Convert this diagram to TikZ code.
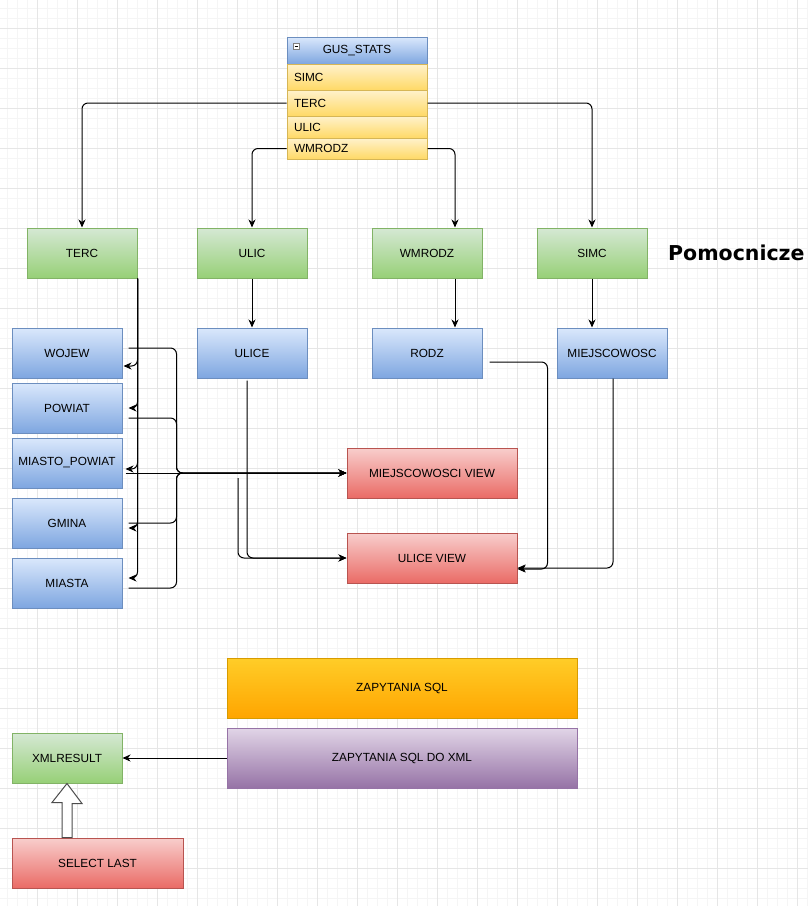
\documentclass[tikz,border=0pt]{standalone}
\usepackage{fontspec}
\newfontfamily\boxfont{Liberation Sans}
\newfontfamily\titlefont{DejaVu Sans}
\usetikzlibrary{arrows.meta,calc}
\definecolor{greenT}{HTML}{D5E8D4}\definecolor{greenB}{HTML}{97D077}\definecolor{greenS}{HTML}{82B366}
\definecolor{blueT}{HTML}{DAE8FC}\definecolor{blueB}{HTML}{7EA6E0}\definecolor{blueS}{HTML}{6C8EBF}
\definecolor{redT}{HTML}{F8CECC}\definecolor{redB}{HTML}{EA6B66}\definecolor{redS}{HTML}{B85450}
\definecolor{orgT}{HTML}{FFCD28}\definecolor{orgB}{HTML}{FFA500}\definecolor{orgS}{HTML}{D79B00}
\definecolor{purT}{HTML}{E1D5E7}\definecolor{purB}{HTML}{9673A6}\definecolor{purS}{HTML}{9673A6}
\definecolor{yelT}{HTML}{FFF2CC}\definecolor{yelB}{HTML}{FFD966}\definecolor{yelS}{HTML}{D6B656}
\definecolor{gridminor}{HTML}{F5F5F5}\definecolor{gridmajor}{HTML}{E6E6E6}
\tikzset{
  boxbase/.style={draw, line width=1pt, inner sep=0pt, minimum width=110pt, minimum height=50pt,
    font=\boxfont\fontsize{11.8}{14}\selectfont, text=black},
  greenbox/.style={boxbase, draw=greenS, top color=greenT, bottom color=greenB},
  bluebox/.style={boxbase, draw=blueS, top color=blueT, bottom color=blueB},
  redbox/.style={boxbase, draw=redS, top color=redT, bottom color=redB, minimum width=170pt},
  orgbox/.style={boxbase, draw=orgS, top color=orgT, bottom color=orgB, minimum width=350pt, minimum height=60pt},
  purbox/.style={boxbase, draw=purS, top color=purT, bottom color=purB, minimum width=350pt, minimum height=60pt},
  rowbox/.style={boxbase, draw=yelS, top color=yelT, bottom color=yelB, minimum width=140pt,
    text width=126pt, inner xsep=7pt, inner ysep=0pt, align=left},
  headbox/.style={boxbase, draw=blueS, top color=blueT, bottom color=blueB, minimum width=140pt, minimum height=27pt},
  conn/.style={draw=black, line width=1pt, rounded corners=6pt, -{Stealth[length=8pt,width=7pt,inset=2.5pt]}},
  gridmin/.style={draw=gridminor, line width=1pt},
  gridmaj/.style={draw=gridmajor, line width=1pt},
}
\begin{document}
\begin{tikzpicture}[x=1pt,y=-1pt]
\useasboundingbox (0,0) rectangle (808,906);
\fill[white] (0,0) rectangle (808,906);
% grid
\foreach \x in {7,17,...,807} \draw[gridmin] (\x,0) -- (\x,906);
\foreach \y in {8,18,...,898} \draw[gridmin] (0,\y) -- (808,\y);
\foreach \x in {37,77,...,797} \draw[gridmaj] (\x,0) -- (\x,906);
\foreach \y in {28,68,...,868} \draw[gridmaj] (0,\y) -- (808,\y);

% table
\node[headbox] (head) at (357,50.5) {GUS\_STATS};
\node[rowbox, minimum height=26pt] (rsimc) at (357,77) {SIMC};
\node[rowbox, minimum height=26pt] (rterc) at (357,103) {TERC};
\node[rowbox, minimum height=22pt] (rulic) at (357,127) {ULIC};
\node[rowbox, minimum height=21pt] (rwm) at (357,148.5) {WMRODZ};
\draw[draw=gray, fill=white, line width=0.6pt] (293,43) rectangle (299,49);
\draw[black, line width=0.8pt] (294.5,46) -- (297.5,46);

% green
\node[greenbox] (terc) at (82,253) {TERC};
\node[greenbox] (ulic) at (252,253) {ULIC};
\node[greenbox] (wmrodz) at (427,253) {WMRODZ};
\node[greenbox] (simc) at (592,253) {SIMC};
\node[anchor=west, inner sep=0pt, font=\titlefont\bfseries\fontsize{20.5}{24}\selectfont] (pom) at (668,253) {Pomocnicze};

% blue
\node[bluebox] (wojew) at (67,353) {WOJEW};
\node[bluebox] (powiat) at (67,408) {POWIAT};
\node[bluebox] (miastop) at (67,463) {MIASTO\_POWIAT};
\node[bluebox] (gmina) at (67,523) {GMINA};
\node[bluebox] (miasta) at (67,583) {MIASTA};
\node[bluebox] (ulice) at (252,353) {ULICE};
\node[bluebox] (rodz) at (427,353) {RODZ};
\node[bluebox] (miejsc) at (612,353) {MIEJSCOWOSC};

% red
\node[redbox] (mview) at (432,473) {MIEJSCOWOSCI VIEW};
\node[redbox] (uview) at (432,558) {ULICE VIEW};

% bottom
\node[orgbox] (zsql) at (402,688) {ZAPYTANIA SQL};
\node[purbox] (zxml) at (402,758) {ZAPYTANIA SQL DO XML};
\node[greenbox] (xml) at (67,758) {XMLRESULT};
\node[redbox, minimum width=171pt] (sel) at (97.5,863) {SELECT LAST};

% connectors from table
\draw[conn] (rterc.west) -| (terc.north);
\draw[conn] (rterc.east) -| (simc.north);
\draw[conn] (rwm.west) -| (ulic.north);
\draw[conn] (rwm.east) -| ($(wmrodz.north)+(28,0)$);

\draw[conn] (ulic.south) -- (ulice.north);
\draw[conn] ($(wmrodz.south)+(28,0)$) -- ($(rodz.north)+(28,0)$);
\draw[conn] (simc.south) -- (simc.south |- miejsc.north);

% TERC to blue boxes
\draw[conn] (terc.south east) |- ($(wojew.east)+(1,13)$);
\draw[conn] (terc.south east) |- ($(powiat.east)+(6,0)$);
\draw[conn] (terc.south east) |- ($(miastop.east)+(3,6)$);
\draw[conn] (terc.south east) |- ($(gmina.east)+(6,5)$);
\draw[conn] (terc.south east) |- ($(miasta.east)+(6,-5)$);

% blue boxes to MIEJSCOWOSCI VIEW
\draw[conn] ($(wojew.east)+(6,-5)$) -| ($(mview.west)+(-170,0)$) -- (mview.west);
\draw[conn] ($(powiat.east)+(6,10)$) -| ($(mview.west)+(-170,0)$) -- (mview.west);
\draw[conn] ($(gmina.east)+(6,0)$) -| ($(mview.west)+(-170,0)$) -- (mview.west);
\draw[conn] ($(miasta.east)+(6,5)$) -| ($(mview.west)+(-170,0)$) -- (mview.west);
\draw[conn] ($(miastop.east)+(3,10)$) -- (mview.west);

% to ULICE VIEW
\coordinate (loose) at (238,478);
\draw[conn] ($(ulice.south)+(-5,2)$) |- (uview.west);
\draw[conn] (loose) |- (uview.west);
\draw[conn] ($(rodz.east)+(7,9)$) -| ($(uview.east)+(30,11)$) -- ($(uview.east)+(0,11)$);
\draw[conn] ($(miejsc.south)+(1,0)$) |- ($(uview.east)+(0,10)$);

% bottom connectors
\draw[conn] (zxml.west) -- (xml.east);
\draw[draw=black!70, fill=white, line width=1pt]
  ($(sel.north -| xml.south)+(-5,0)$) -- ++(0,-35) -- ++(-10,0) -- (xml.south) -- ++(15,20) -- ++(-10,0)
  -- ($(sel.north -| xml.south)+(5,0)$) -- cycle;
\end{tikzpicture}
\end{document}
